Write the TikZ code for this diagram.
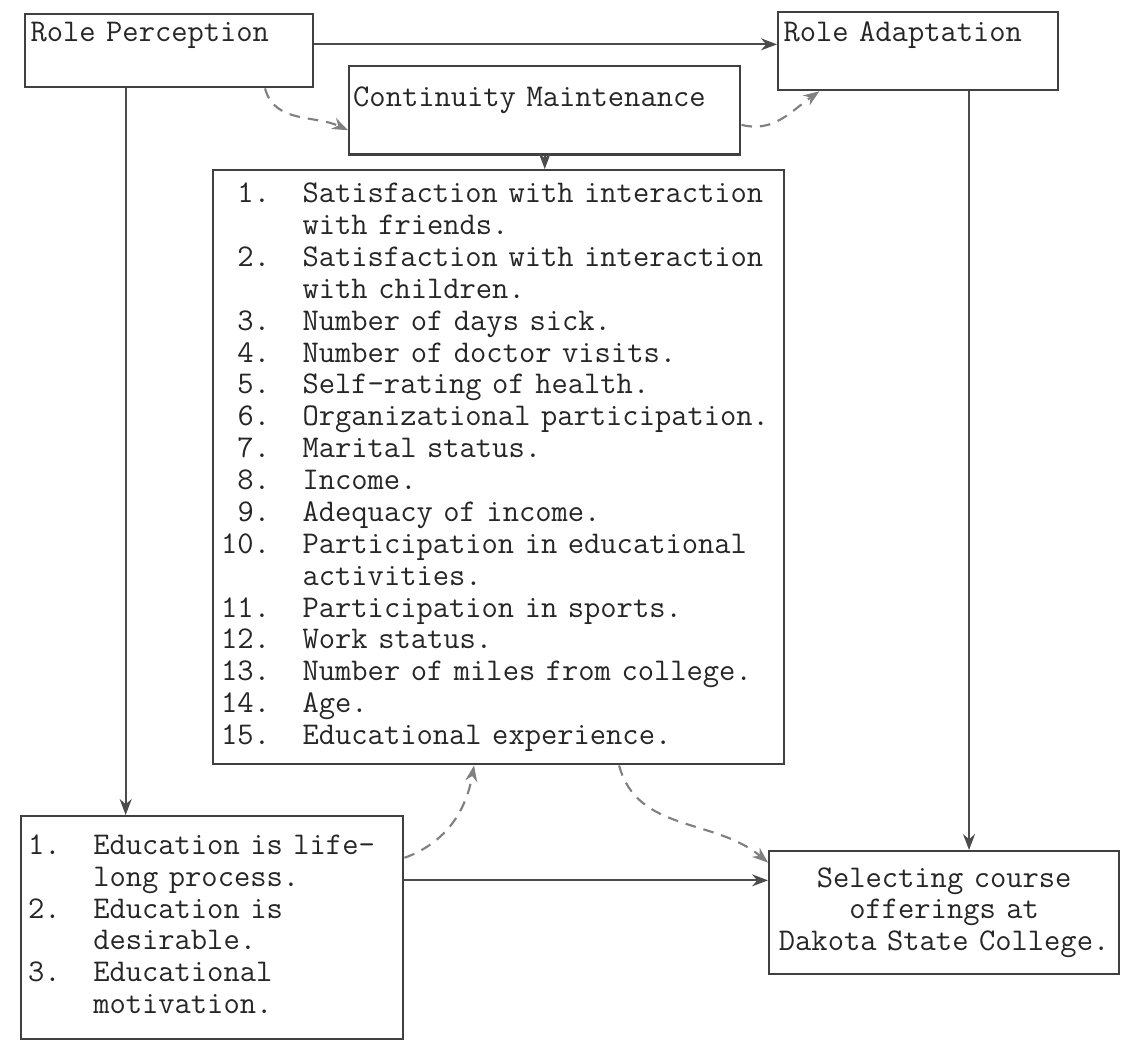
\documentclass[tikz,border=0pt]{standalone}
\usetikzlibrary{arrows.meta, positioning, calc}

\begin{document}
\begin{tikzpicture}[
    box/.style={rectangle, draw=black!75, line width=0.9pt, anchor=north west, inner ysep=0pt, inner xsep=2pt, align=left, font=\ttfamily\fontsize{11.9}{12}\selectfont, text=black!85},
    arrow/.style={->, >={Stealth[length=6pt, width=4.5pt]}, line width=0.8pt, draw=black!70},
    dasharrow/.style={arrow, draw=black!50, dash pattern=on 4pt off 3pt}
]
    \useasboundingbox (0,0) rectangle (14.843, 13.785);

    \node[box, text width=104.4pt, text height=10.2pt, text depth=17.3pt] (rp) at (0.318, 13.613) {Role Perception};
    \node[box, text width=101.4pt, text height=10.9pt, text depth=18.4pt] (ra) at (10.279, 13.639) {Role Adaptation};
    \node[box, inner xsep=1.5pt, text width=144.2pt, text height=15.1pt, text depth=18.1pt] (cm) at (4.604, 12.925) {Continuity Maintenance};
    \node[box, inner xsep=3pt, text width=208.9pt, minimum height=223.6pt] (lst) at (2.805, 11.549) {%
        \begin{tabular}{@{}r@{\hspace{1.03em}}l@{}}
        1. & Satisfaction with interaction\\
           & with friends.\\
        2. & Satisfaction with interaction\\
           & with children.\\
        3. & Number of days sick.\\
        4. & Number of doctor visits.\\
        5. & Self-rating of health.\\
        6. & Organizational participation.\\
        7. & Marital status.\\
        8. & Income.\\
        9. & Adequacy of income.\\
        10. & Participation in educational\\
            & activities.\\
        11. & Participation in sports.\\
        12. & Work status.\\
        13. & Number of miles from college.\\
        14. & Age.\\
        15. & Educational experience.
        \end{tabular}};
    \node[box, inner xsep=2.6pt, text width=138.6pt, minimum height=83.9pt] (edu) at (0.265, 3.003) {%
        \begin{tabular}{@{}l@{\hspace{1.03em}}l@{}}
        1. & Education is life-\\
           & long process.\\
        2. & Education is\\
           & desirable.\\
        3. & Educational\\
           & motivation.
        \end{tabular}};
    \node[box, align=center, inner xsep=1pt, text width=129.7pt, minimum height=46.3pt] (sel) at (10.160, 2.540) {Selecting course\\offerings at\\Dakota State College.};

    \coordinate (rpdown) at ($(rp.south west)!0.35!(rp.south east)$);
    \coordinate (radown) at ($(ra.south west)!0.68!(ra.south east)$);
    \coordinate (eduright) at ($(edu.north east)!0.29!(edu.south east)$);

    \draw[arrow] ([yshift=2.4pt]rp.east) -- ([yshift=2.4pt]rp.east -| ra.west);
    \draw[arrow] (rpdown) -- (rpdown |- edu.north);
    \draw[arrow] (radown) -- (radown |- sel.north);
    \draw[arrow] (cm.south) -- (cm.south |- lst.north);
    \draw[arrow] (eduright) -- (eduright -| sel.west);

    % dashed influences
    \draw[dasharrow] ($(rp.south west)!0.83!(rp.south east)$) to[out=-75, in=155] ($(cm.north west)!0.72!(cm.south west)$);
    \draw[dasharrow] ($(cm.north east)!0.66!(cm.south east)$) to[out=-15, in=215] ($(ra.south west)!0.15!(ra.south east)$);
    \draw[dasharrow] ($(edu.north east)!0.19!(edu.south east)$) to[out=20, in=-100] ($(lst.south west)!0.457!(lst.south east)$);
    \draw[dasharrow] ($(lst.south west)!0.71!(lst.south east)$) to[out=-75, in=140] ($(sel.north west)!0.1!(sel.south west)$);
\end{tikzpicture}
\end{document}
